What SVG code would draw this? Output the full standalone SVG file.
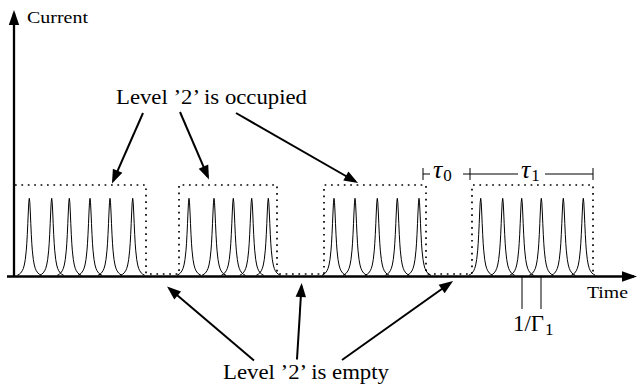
<svg xmlns="http://www.w3.org/2000/svg" width="641" height="386" viewBox="0 0 641 386">
<style>
text{font-family:'Liberation Serif','DejaVu Serif',serif;fill:#000}
.arrow{fill:none;stroke:#000;stroke-width:2;marker-end:url(#ah)}
.axis{fill:none;stroke:#000;stroke-width:2.3;marker-end:url(#ah2)}
.peak{fill:none;stroke:#000;stroke-width:1;stroke-linejoin:round}
.dots{fill:none;stroke:#000;stroke-width:1.7;stroke-dasharray:1.7 4.7}
.thin{fill:none;stroke:#000;stroke-width:1}
</style>
<defs>
<marker id="ah" markerUnits="userSpaceOnUse" markerWidth="30" markerHeight="30" refX="0" refY="0" orient="auto" overflow="visible" viewBox="-20 -15 30 30">
<path d="M3,0 L-11,-5.2 L-11,5.2 Z" fill="#000"/>
</marker>
<marker id="ah2" markerUnits="userSpaceOnUse" markerWidth="30" markerHeight="30" refX="0" refY="0" orient="auto" overflow="visible" viewBox="-20 -15 30 30">
<path d="M3,0 L-12,-5.2 L-12,5.2 Z" fill="#000"/>
</marker>
<path id="pk" class="peak" d="M-12,0 L-10,-1.1 L-8.5,-2.4 L-7,-4.6 L-6,-6.8 L-5,-10.3 L-4,-15.9 L-3,-25.1 L-2.5,-32 L-2,-40.9 L-1.5,-51.7 L-1,-63.3 L-0.5,-73.1 L0,-77 L0.5,-73.1 L1,-63.3 L1.5,-51.7 L2,-40.9 L2.5,-32 L3,-25.1 L4,-15.9 L5,-10.3 L6,-6.8 L7,-4.6 L8.5,-2.4 L10,-1.1 L12,0"/>
</defs>

<g id="axes">
<path class="axis" d="M14,277 V13"/>
<path class="axis" d="M7,276.5 H634"/>
<text x="27" y="23" font-size="17.5" textLength="61" lengthAdjust="spacingAndGlyphs">Current</text>
<text x="587" y="298" font-size="17.5" textLength="41" lengthAdjust="spacingAndGlyphs">Time</text>
</g>

<g id="occupancy">
<path class="dots" d="M15,185 H146 V274 H179 V185 H277 V274 H324 V185 H426 V274 H472 V185 H593 V274"/>
</g>

<g id="box1">
<use href="#pk" x="29.3" y="275.3"/>
<use href="#pk" x="51.7" y="275.3"/>
<use href="#pk" x="69.3" y="275.3"/>
<use href="#pk" x="90" y="275.3"/>
<use href="#pk" x="110" y="275.3"/>
<use href="#pk" x="132.7" y="275.3"/>
</g>
<g id="box2">
<use href="#pk" x="189" y="275.3"/>
<use href="#pk" x="214" y="275.3"/>
<use href="#pk" x="233.3" y="275.3"/>
<use href="#pk" x="251.7" y="275.3"/>
<use href="#pk" x="268.3" y="275.3"/>
</g>
<g id="box3">
<use href="#pk" x="334" y="275.3"/>
<use href="#pk" x="355" y="275.3"/>
<use href="#pk" x="377.3" y="275.3"/>
<use href="#pk" x="397.3" y="275.3"/>
<use href="#pk" x="419" y="275.3"/>
</g>
<g id="box4">
<use href="#pk" x="480.7" y="275.3"/>
<use href="#pk" x="502.7" y="275.3"/>
<use href="#pk" x="521.7" y="275.3"/>
<use href="#pk" x="541.3" y="275.3"/>
<use href="#pk" x="563.3" y="275.3"/>
<use href="#pk" x="583.3" y="275.3"/>
</g>

<g id="tau">
<path class="thin" d="M423,168 V180 M470,168 V180 M593,168 V180 M423,174 H430 M463,174 H518 M545,174 H593"/>
<text x="433" y="178" font-size="26" font-style="italic">τ<tspan font-size="17" font-style="normal" dx="1" dy="3">0</tspan></text>
<text x="521" y="178" font-size="26" font-style="italic">τ<tspan font-size="17" font-style="normal" dx="1" dy="3">1</tspan></text>
</g>

<g id="gamma">
<path class="thin" d="M522,277 V309 M541,277 V309"/>
<text x="513" y="331" font-size="24" textLength="31" lengthAdjust="spacingAndGlyphs">1/Γ</text>
<text x="545" y="335" font-size="17">1</text>
</g>

<g id="label-occupied">
<text x="116" y="104" font-size="20" textLength="191" lengthAdjust="spacingAndGlyphs">Level ’2’ is occupied</text>
</g>
<g id="label-empty">
<text x="223" y="379" font-size="20" textLength="166" lengthAdjust="spacingAndGlyphs">Level ’2’ is empty</text>
</g>

<g id="connectors">
<path class="arrow" d="M143,113 L113.2,180.8"/>
<path class="arrow" d="M180,112 L207.8,176.7"/>
<path class="arrow" d="M236,113 L355.4,181.5"/>
<path class="arrow" d="M254,360.5 L169.3,288.4"/>
<path class="arrow" d="M297,359.5 L301.5,286"/>
<path class="arrow" d="M342,360 L450.6,282.7"/>
</g>
</svg>
